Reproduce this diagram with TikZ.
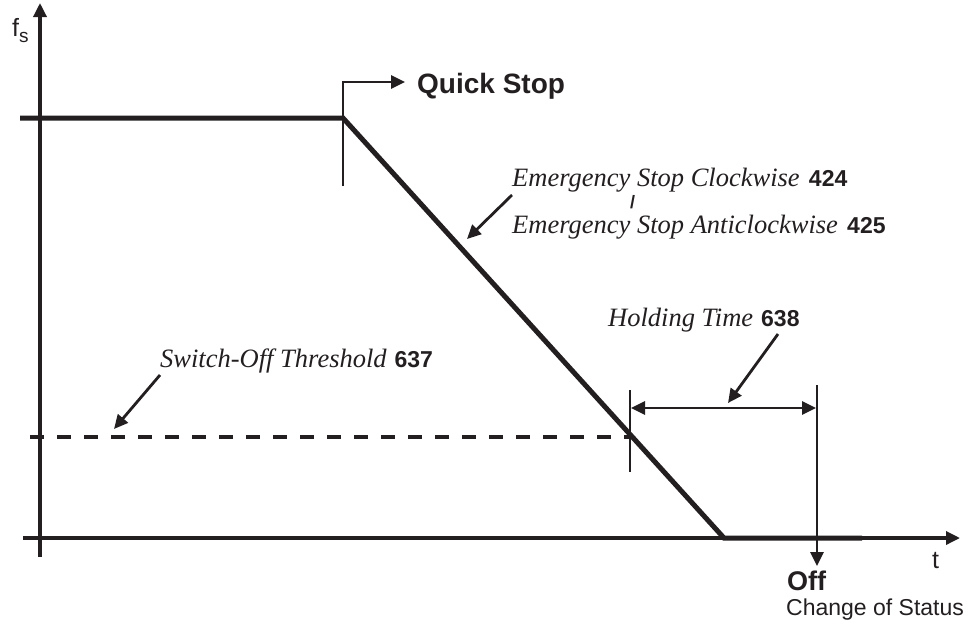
\documentclass[tikz,border=0pt]{standalone}
\usepackage{fontspec}
\setmainfont{Liberation Serif}
\setsansfont{Liberation Sans}
\usetikzlibrary{arrows.meta}
\definecolor{ink}{HTML}{231F20}
\tikzset{
  axis/.style={line width=3.3pt, draw=ink},
  curve/.style={line width=5pt, draw=ink, line join=miter, line cap=butt},
  thin/.style={line width=2.8pt, draw=ink},
  tip/.style={-{Triangle[length=14pt,width=13pt]}},
  lbl/.style={inner sep=0pt, anchor=base west, text=ink},
  itx/.style={font=\fontsize{26.5}{30}\selectfont\itshape},
  sfb/.style={font=\fontsize{28}{32}\selectfont\sffamily\bfseries},
}
\newcommand{\numb}[1]{{\fontsize{23}{26}\selectfont\sffamily\bfseries\upshape #1}}
\begin{document}
\begin{tikzpicture}[x=1pt,y=-1pt]
\useasboundingbox (0,0) rectangle (976,627);
% coordinates
\coordinate (yb) at (40,557);
\coordinate (yt) at (40,3);
\coordinate (xl) at (23,538);
\coordinate (xr) at (960,538);
\coordinate (p0) at (20,118);
\coordinate (p1) at (343,118);
\coordinate (p2) at (724,538);
\coordinate (p3) at (862,538);
\coordinate (q0) at (343,186);
\coordinate (q1) at (343,82);
\coordinate (qa) at (405,82);
\coordinate (d0) at (30,437);
\coordinate (d1) at (630,437);
\coordinate (h0) at (630,390);
\coordinate (h1) at (630,472);
\coordinate (h2) at (817,385);
\coordinate (h3) at (817,566);
\coordinate (ha) at (631,408);
\coordinate (hb) at (816,408);
\coordinate (e0) at (512,195);
\coordinate (e1) at (467,239);
\coordinate (t0) at (778,334);
\coordinate (t1) at (728,403);
\coordinate (s0) at (160,375);
\coordinate (s1) at (114,429);
% axes
\draw[axis,tip] (yb) -- (yt);
\draw[axis,tip] (xl) -- (xr);
% dashed threshold
\draw[line width=3.2pt, draw=ink, dash pattern=on 14pt off 13pt] (d0) -- (d1);
% speed curve
\draw[curve] (p0) -- (p1) -- (p2) -- (p3);
% quick stop marker
\draw[thin,tip] (q0) -- (q1) -- (qa);
% holding time
\draw[thin] (h0) -- (h1);
\draw[thin,tip] (h2) -- (h3);
\draw[thin,{Triangle[length=14pt,width=13pt]}-{Triangle[length=14pt,width=13pt]}] (ha) -- (hb);
% annotation arrows
\draw[thin,tip] (e0) -- (e1);
\draw[thin,tip] (t0) -- (t1);
\draw[thin,tip] (s0) -- (s1);
% labels
\node[lbl, font=\fontsize{25}{28}\selectfont\sffamily] (fs) at (12,36) {f\raisebox{-6pt}{\fontsize{19}{22}\selectfont s}};
\node[lbl, font=\fontsize{25}{28}\selectfont\sffamily] (t) at (932,568) {t};
\node[lbl, sfb] (qs) at (417,93) {Quick Stop};
\node[lbl, itx] (em1) at (512,186) {Emergency Stop Clockwise\hspace{0.35em}\numb{424}};
\node[lbl] (sl) at (630,208) {{\fontsize{18}{20}\selectfont\sffamily\bfseries /}};
\node[lbl, itx] (em2) at (512,233) {Emergency Stop Anticlockwise\hspace{0.35em}\numb{425}};
\node[lbl, itx] (ht) at (608,326) {Holding Time\hspace{0.3em}\numb{638}};
\node[lbl, itx] (so) at (160,367) {Switch-Off Threshold\hspace{0.3em}\numb{637}};
\node[lbl, font=\fontsize{27}{30}\selectfont\sffamily\bfseries] (off) at (787,590) {Off};
\node[lbl, font=\fontsize{23}{26}\selectfont\sffamily] (cs) at (786,615) {Change of Status};
\end{tikzpicture}
\end{document}
